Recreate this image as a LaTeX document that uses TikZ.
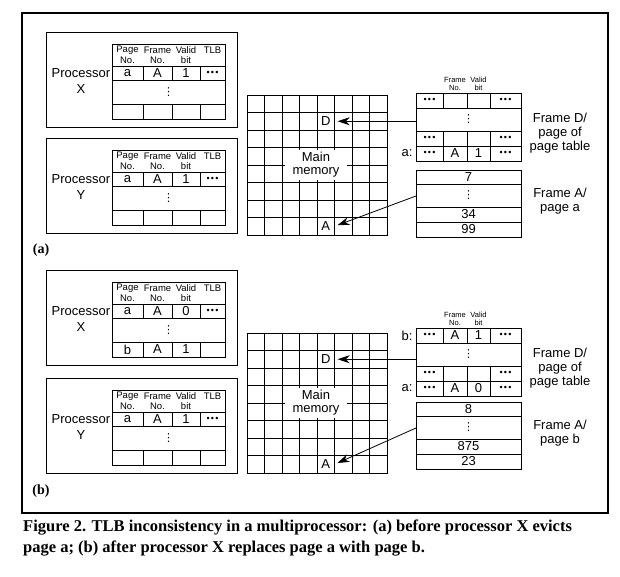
\documentclass[tikz,border=0pt]{standalone}
\usepackage{fontspec}
\setmainfont{Liberation Sans}
\newfontfamily\capfont{Liberation Serif}
\newfontfamily\symfont{DejaVu Sans}
\usetikzlibrary{arrows.meta}

\newcommand{\tlbdots}{{\fontsize{9}{9}\selectfont\textbullet\hspace{1.2pt}\textbullet\hspace{1.2pt}\textbullet}}
\newcommand{\tlbvdots}{{\symfont\fontsize{11}{11}\selectfont ⋮}}

\begin{document}
\begin{tikzpicture}[x=1pt, y=-1pt]

\tikzset{procline/.style = {line width=1pt}}
\tikzset{gridline/.style = {line width=0.6pt}}
\tikzset{cell/.style = {inner sep=0pt, font=\fontsize{13}{13}\selectfont}}
\tikzset{tlbhead/.style = {inner sep=0pt, font=\fontsize{9.5}{9.5}\selectfont}}
\tikzset{pthead/.style = {inner sep=0pt, font=\fontsize{7.5}{7.5}\selectfont}}
\tikzset{side/.style = {align=center, font=\fontsize{13}{14}\selectfont}}
\tikzset{mem/.style = {minimum size=17.5pt, inner sep=0pt, font=\fontsize{13}{13}\selectfont}}
\tikzset{ptr/.style = {-{Stealth[length=12pt,width=8pt]}, line width=0.8pt, shorten >=3pt}}

\useasboundingbox (0,0) rectangle (620,576);
\draw[line width=1.3pt] (22,13) rectangle (608,513);

%processors and their TLBs
\foreach \p/\ty/\pl in {ax/32/X, ay/138/Y, bx/270/X, by/378/Y} {
  \draw[procline] (46,\ty) rectangle (237,\ty+95);
  \draw[procline] (112,\ty+12) rectangle (225,\ty+87);
  \draw[procline] (112,\ty+34) -- (225,\ty+34) (112,\ty+48) -- (225,\ty+48) (112,\ty+72) -- (225,\ty+72);
  \foreach \cx in {143,172,200}
    \draw[procline] (\cx,\ty+34) -- (\cx,\ty+48) (\cx,\ty+72) -- (\cx,\ty+87);
  \node[cell] (\p-name) at (81,\ty+41) {Processor};
  \node[cell] (\p-letter) at (81,\ty+57) {\pl};
  \node[tlbhead] (\p-h1) at (127.5,\ty+18.5) {Page};
  \node[tlbhead] (\p-h2) at (127.5,\ty+28) {No.};
  \node[tlbhead] (\p-h3) at (157.5,\ty+18.5) {Frame};
  \node[tlbhead] (\p-h4) at (157.5,\ty+28) {No.};
  \node[tlbhead] (\p-h5) at (186,\ty+18.5) {Valid};
  \node[tlbhead] (\p-h6) at (186,\ty+28) {bit};
  \node[tlbhead] (\p-h7) at (212.5,\ty+18.5) {TLB};
  \node[cell] (\p-more) at (168.5,\ty+60) {\tlbvdots};
}
\foreach \cx/\txt [count=\i] in {127.5/a, 157.5/A, 186/1, 212.5/\tlbdots}
  \node[cell] (ax-r1c\i) at (\cx,73) {\txt};
\foreach \cx/\txt [count=\i] in {127.5/a, 157.5/A, 186/1, 212.5/\tlbdots}
  \node[cell] (ay-r1c\i) at (\cx,179) {\txt};
\foreach \cx/\txt [count=\i] in {127.5/a, 157.5/A, 186/0, 212.5/\tlbdots}
  \node[cell] (bx-r1c\i) at (\cx,311) {\txt};
\foreach \cx/\txt [count=\i] in {127.5/b, 157.5/A, 186/1}
  \node[cell] (bx-r3c\i) at (\cx,349.5) {\txt};
\foreach \cx/\txt [count=\i] in {127.5/a, 157.5/A, 186/1, 212.5/\tlbdots}
  \node[cell] (by-r1c\i) at (\cx,419) {\txt};

%main memory
\foreach \g/\ty in {a/95, b/333} {
  \foreach \k in {0,...,8} {
    \draw[gridline] (247+\k*17.5,\ty) -- (247+\k*17.5,\ty+140);
    \draw[gridline] (247,\ty+\k*17.5) -- (387,\ty+\k*17.5);
  }
  \draw[procline] (247,\ty) rectangle (387,\ty+140);
  \node[cell, fill=white, inner xsep=8pt, inner ysep=2pt, align=center] (\g-main) at (316,\ty+70) {Main\\memory};
  \node[mem] (\g-memD) at (325.75,\ty+26.25) {D};
  \node[mem] (\g-memA) at (325.75,\ty+131.25) {A};
}

%page tables
\foreach \g/\ty in {a/93, b/328} {
  \draw[procline] (416,\ty) rectangle (521,\ty+68);
  \draw[procline] (416,\ty+15) -- (521,\ty+15) (416,\ty+38) -- (521,\ty+38) (416,\ty+53) -- (521,\ty+53);
  \foreach \cx in {443,467,490}
    \draw[procline] (\cx,\ty) -- (\cx,\ty+15) (\cx,\ty+38) -- (\cx,\ty+68);
  \node[pthead] (\g-pth1) at (455,\ty-13) {Frame};
  \node[pthead] (\g-pth2) at (455,\ty-5.5) {No.};
  \node[pthead] (\g-pth3) at (478.5,\ty-13) {Valid};
  \node[pthead] (\g-pth4) at (478.5,\ty-5.5) {bit};
  \node[cell] (\g-pt2) at (468.5,\ty+26.5) {\tlbvdots};
  \coordinate (\g-ptout) at (416,\ty+26.5);
  \node[cell] (\g-pt3c1) at (429.5,\ty+45.5) {\tlbdots};
  \node[cell] (\g-pt3c4) at (505.5,\ty+45.5) {\tlbdots};
  \node[side] (\g-frD) at (560,\ty+40) {Frame D/\\page of\\page table};
}
\foreach \cx/\txt [count=\i] in {429.5/\tlbdots, 505.5/\tlbdots}
  \node[cell] (a-pt1c\i) at (\cx,100.5) {\txt};
\foreach \cx/\txt [count=\i] in {429.5/\tlbdots, 455/A, 478.5/1, 505.5/\tlbdots}
  \node[cell] (a-pt4c\i) at (\cx,153.5) {\txt};
\node[cell] (a-tag) at (407,153.5) {a:};
\foreach \cx/\txt [count=\i] in {429.5/\tlbdots, 455/A, 478.5/1, 505.5/\tlbdots}
  \node[cell] (b-pt1c\i) at (\cx,335.5) {\txt};
\node[cell] (b-tagb) at (407,335.5) {b:};
\foreach \cx/\txt [count=\i] in {429.5/\tlbdots, 455/A, 478.5/0, 505.5/\tlbdots}
  \node[cell] (b-pt4c\i) at (\cx,388.5) {\txt};
\node[cell] (b-taga) at (407,388.5) {a:};

%data frames
\foreach \g/\ty/\va/\vb/\vc/\pg in {a/170/7/34/99/a, b/402/8/875/23/b} {
  \draw[procline] (416,\ty) rectangle (521,\ty+67);
  \draw[procline] (416,\ty+14) -- (521,\ty+14) (416,\ty+37) -- (521,\ty+37) (416,\ty+52) -- (521,\ty+52);
  \node[cell] (\g-fr1) at (468.5,\ty+7) {\va};
  \node[cell] (\g-fr2) at (468.5,\ty+25.5) {\tlbvdots};
  \coordinate (\g-frout) at (416,\ty+26);
  \node[cell] (\g-fr3) at (468.5,\ty+44.5) {\vb};
  \node[cell] (\g-fr4) at (468.5,\ty+59.5) {\vc};
  \node[side] (\g-frA) at (560,\ty+31.5) {Frame A/\\page \pg};
  \draw[ptr] (\g-ptout |- \g-memD) -- (\g-memD.east);
  \draw[ptr] (\g-frout) -- (\g-memA.east);
}

\node[font=\capfont\bfseries\fontsize{14}{14}\selectfont] (parta) at (41,250) {(a)};
\node[font=\capfont\bfseries\fontsize{14}{14}\selectfont] (partb) at (41,491) {(b)};

%caption
\node[anchor=west, inner sep=0pt, font=\capfont\bfseries\fontsize{16.5}{16.5}\selectfont] (cap1) at (23,528) {Figure 2. TLB inconsistency in a multiprocessor: (a) before processor X evicts};
\node[anchor=west, inner sep=0pt, font=\capfont\bfseries\fontsize{16.5}{16.5}\selectfont] (cap2) at (23,548) {page a; (b) after processor X replaces page a with page b.};

\end{tikzpicture}
\end{document}
